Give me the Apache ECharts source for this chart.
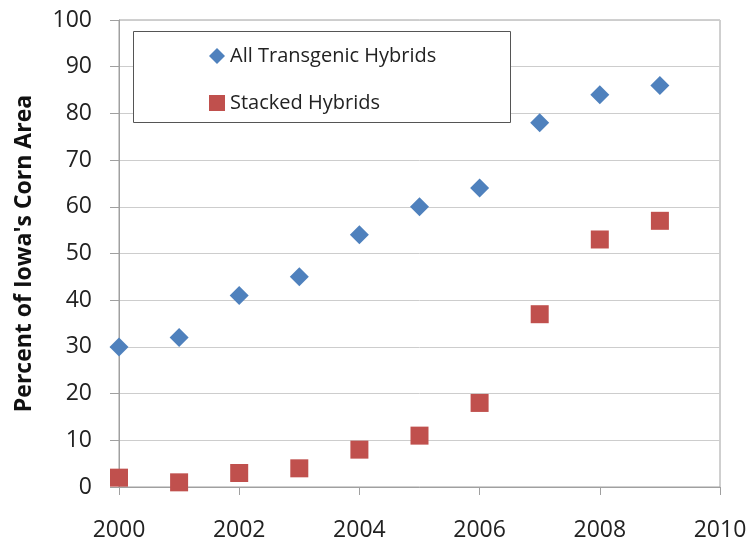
<!DOCTYPE html>
<html>
<head>
<meta charset="utf-8">
<script src="https://cdn.jsdelivr.net/npm/echarts@6/dist/echarts.min.js"></script>
<style>
  html, body { margin: 0; padding: 0; background: #fff; }
  #chart { width: 754px; height: 548px; }
</style>
</head>
<body>
<div id="chart"></div>
<script>
const years = [2000, 2001, 2002, 2003, 2004, 2005, 2006, 2007, 2008, 2009]
const allTransgenic = [30, 32, 41, 45, 54, 60, 64, 78, 84, 86]
const stacked = [2, 1, 3, 4, 8, 11, 18, 37, 53, 57]

const chart = echarts.init(document.getElementById('chart'))
const font = 'Open Sans'
const axisGray = '#a0a0a0'

chart.setOption({
  animation: false,
  grid: {
    left: 119, right: 34, top: 20, bottom: 61,
    show: true, borderColor: axisGray, borderWidth: 1,
  },
  legend: {
    orient: 'vertical',
    left: 204, top: 41,
    itemWidth: 16, itemHeight: 16, itemGap: 27,
    textStyle: { fontFamily: font, fontSize: 20, color: '#222' },
    data: [
      { name: 'All Transgenic Hybrids', icon: 'diamond' },
      { name: 'Stacked Hybrids', icon: 'rect' },
    ],
  },
  graphic: [{
    type: 'rect', left: 133, top: 31, z: 3,
    shape: { width: 377, height: 91 },
    style: { fill: '#fff', stroke: '#555', lineWidth: 1 },
  }],
  xAxis: {
    type: 'value', min: 2000, max: 2010, interval: 2,
    axisLine: { lineStyle: { color: axisGray } },
    axisTick: { show: true, length: 8, lineStyle: { color: axisGray } },
    splitLine: { show: false },
    axisLabel: {
      fontFamily: font, fontSize: 23, color: '#222', margin: 32,
      formatter: v => String(v),
    },
  },
  yAxis: {
    type: 'value', min: 0, max: 100, interval: 10,
    name: "Percent of Iowa's Corn Area",
    nameLocation: 'middle', nameGap: 83,
    nameTextStyle: { fontFamily: font, fontSize: 23, fontWeight: 'bold', color: '#111' },
    axisLine: { show: true, lineStyle: { color: axisGray } },
    axisTick: { show: true, length: 9, lineStyle: { color: axisGray } },
    splitLine: { lineStyle: { color: '#cdcdcd' } },
    axisLabel: { fontFamily: font, fontSize: 23, color: '#222', margin: 27 },
  },
  series: [
    {
      name: 'All Transgenic Hybrids', type: 'scatter', symbol: 'diamond', symbolSize: 19,
      itemStyle: { color: '#4f81bd', opacity: 1 },
      data: years.map((y, i) => [y, allTransgenic[i]]),
    },
    {
      name: 'Stacked Hybrids', type: 'scatter', symbol: 'rect', symbolSize: 18,
      itemStyle: { color: '#c0504d', opacity: 1 },
      data: years.map((y, i) => [y, stacked[i]]),
    },
  ],
})
</script>
</body>
</html>
